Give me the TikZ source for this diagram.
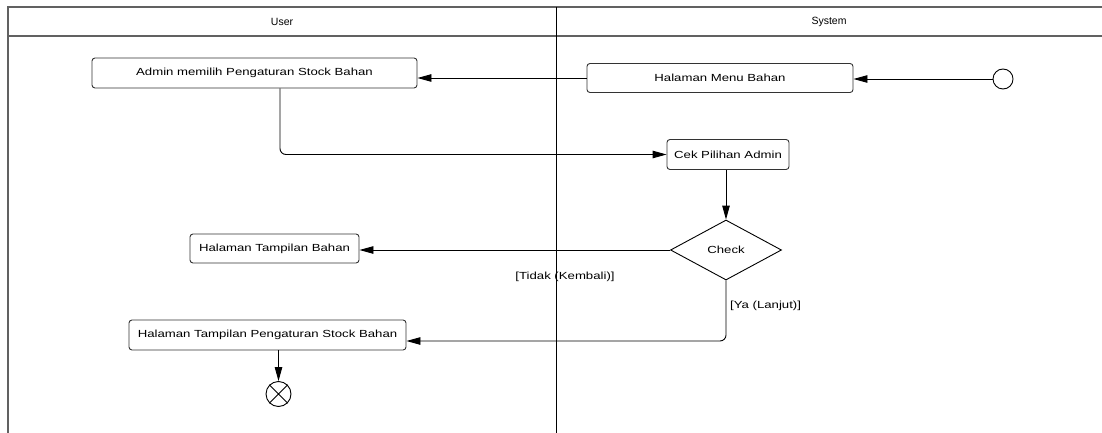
\documentclass[tikz,border=0pt]{standalone}
\usepackage{fontspec}
\setmainfont{Liberation Sans}
\newfontfamily\boxfont[FakeStretch=1.28]{Liberation Sans}
\usetikzlibrary{arrows.meta,shapes.geometric}

\begin{document}
\begin{tikzpicture}[x=1pt,y=-1pt,
  lane/.style={draw=black!62,line width=2pt},
  divider/.style={draw=black,line width=0.9pt},
  act/.style={draw=black!80,line width=0.9pt,rounded corners=3pt,fill=white,
    inner sep=0pt,font=\boxfont\fontsize{10.3}{12}\selectfont},
  decision/.style={diamond,draw=black,line width=0.9pt,inner sep=0pt,
    minimum width=111pt,minimum height=60pt,font=\boxfont\fontsize{10.3}{12}\selectfont},
  flow/.style={draw=black,line width=0.9pt,rounded corners=6pt,
    -{Triangle[length=14pt,width=7.5pt]}},
  guard/.style={font=\boxfont\fontsize{10.3}{12}\selectfont,inner sep=0pt},
  lanehead/.style={font=\fontsize{10.5}{12}\selectfont,inner sep=0pt}]

  \useasboundingbox (0,0) rectangle (1102,433);

  % swimlane frame
  \draw[lane] (8,433) -- (8,7) -- (1104,7);
  \draw[lane] (8,36) -- (1104,36);
  \draw[divider] (556,7) -- (556,433);
  \node[lanehead] (userlane) at (282,21.5) {User};
  \node[lanehead] (systemlane) at (829,21.5) {System};

  % actions
  \node[act,minimum width=325pt,minimum height=30pt] (admin) at (254.5,73) {Admin memilih Pengaturan Stock Bahan};
  \node[act,minimum width=266pt,minimum height=29pt] (menu) at (720,78) {Halaman Menu Bahan};
  \node[draw=black,line width=0.9pt,circle,minimum size=20pt,inner sep=0pt] (start) at (1003,79) {};
  \node[act,minimum width=122pt,minimum height=30pt] (cek) at (728,154.5) {Cek Pilihan Admin};
  \node[decision] (check) at (726,250) {Check};
  \node[act,minimum width=169pt,minimum height=29pt] (tampil) at (274.5,248.5) {Halaman Tampilan Bahan};
  \node[act,minimum width=277pt,minimum height=30pt] (atur) at (267.5,335) {Halaman Tampilan Pengaturan Stock Bahan};
  \node[draw=black,line width=0.9pt,circle,minimum size=25pt,inner sep=0pt] (finish) at (278.5,394) {};
  \draw[line width=0.9pt] (finish.north east) -- (finish.south west)
                          (finish.north west) -- (finish.south east);

  % guards
  \node[guard] (tidak) at (565,277) {[Tidak (Kembali)]};
  \node[guard,anchor=west] (ya) at (730,306) {[Ya (Lanjut)]};

  % control flow
  \draw[flow] (start.west) -- (start.west -| menu.east);
  \draw[flow] (menu.west) -- (menu.west -| admin.east);
  \draw[flow] ([xshift=25.5pt]admin.south) |- (cek.west);
  \draw[flow] (cek.south -| check.north) -- (check.north);
  \draw[flow] (check.west) -- (check.west -| tampil.east);
  \draw[flow] (check.south) |- ([yshift=-6pt]atur.east);
  \draw[flow] (atur.south -| finish.north) -- (finish.north);
\end{tikzpicture}
\end{document}
